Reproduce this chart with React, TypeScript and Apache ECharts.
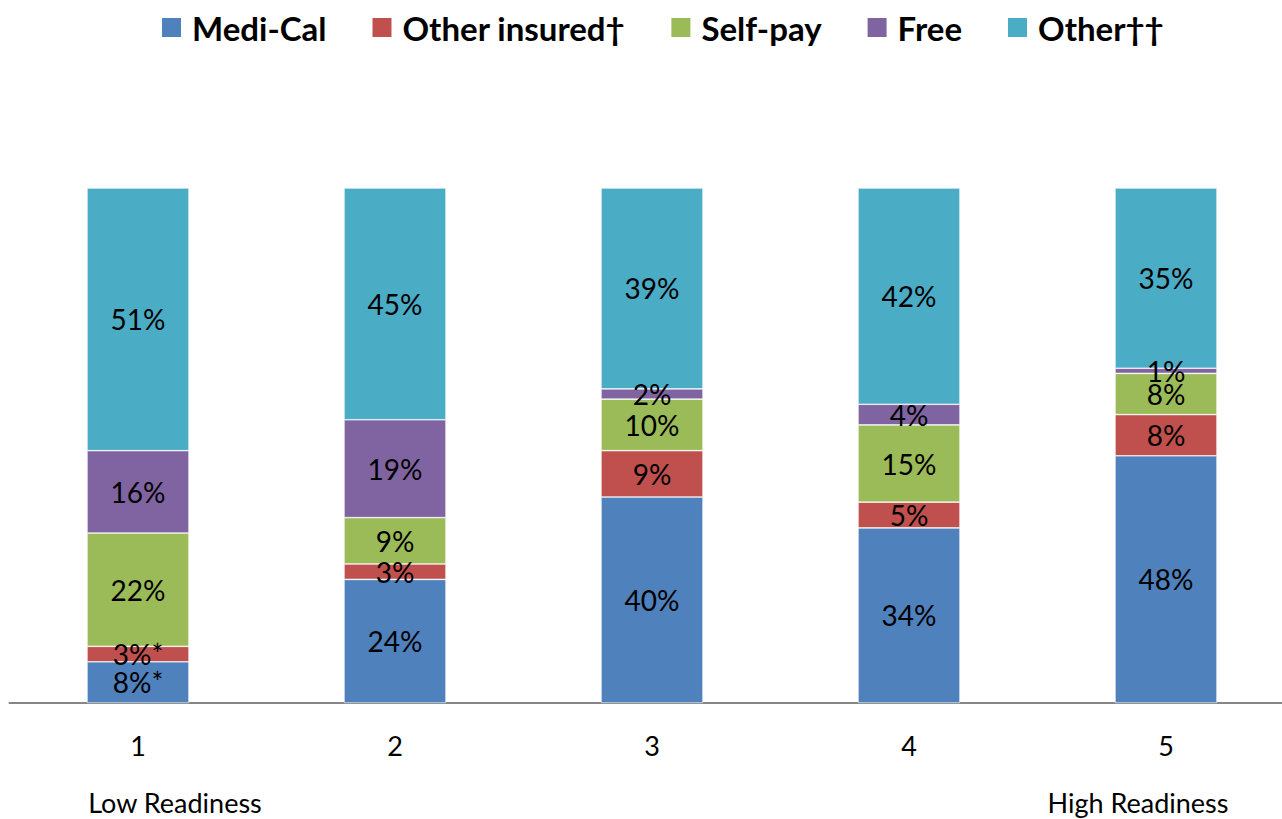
import React, { useEffect, useRef } from "react";
import * as echarts from "echarts";

const categories = ["1", "2", "3", "4", "5"];
const seriesNames = ["Medi-Cal", "Other insured†", "Self-pay", "Free", "Other††"];
const mediCal = [8, 24, 40, 34, 48];
const otherInsured = [3, 3, 9, 5, 8];
const selfPay = [22, 9, 10, 15, 8];
const free = [16, 19, 2, 4, 1];
const other = [51, 45, 39, 42, 35];
const mediCalNotes = ["*", "", "", "", ""];
const otherInsuredNotes = ["*", "", "", "", ""];
const emptyNotes = ["", "", "", "", ""];
const colors = ["#4F81BD", "#C0504D", "#9BBB59", "#8064A2", "#4BACC6"];
const scaleLow = "Low Readiness";
const scaleHigh = "High Readiness";

const FONT = "Lato, 'Open Sans', sans-serif";

export default function App() {
  const ref = useRef<HTMLDivElement>(null);
  useEffect(() => {
    if (!ref.current) return;
    const chart = echarts.init(ref.current, undefined, { renderer: "svg" });
    const values = [mediCal, otherInsured, selfPay, free, other];
    const notes = [mediCalNotes, otherInsuredNotes, emptyNotes, emptyNotes, emptyNotes];
    chart.setOption({
      animation: false,
      textStyle: { fontFamily: FONT },
      legend: {
        top: 6,
        left: 155,
        itemWidth: 21,
        itemHeight: 21,
        itemGap: 44,
        icon: "rect",
        textStyle: { fontSize: 33, fontWeight: "bold", color: "#000", fontFamily: FONT, padding: [0, 0, 0, 5] },
        data: seriesNames,
      },
      grid: { left: 9.5, right: 0.5, top: 188, bottom: 116 },
      xAxis: {
        type: "category",
        data: categories,
        axisLine: { lineStyle: { color: "#868686", width: 2 } },
        axisTick: { show: false },
        axisLabel: { fontSize: 27, color: "#000", margin: 29, fontFamily: FONT },
      },
      yAxis: { type: "value", min: 0, max: 100, show: false },
      series: seriesNames.map((name, i) => ({
        name,
        type: "bar",
        stack: "total",
        barWidth: 102,
        itemStyle: { color: colors[i], borderColor: "#ffffff", borderWidth: 0.6 },
        label: {
          show: true,
          position: "inside",
          fontSize: 28,
          color: "#000",
          fontFamily: FONT,
          formatter: (p: any) => `${p.value}%${notes[i][p.dataIndex]}`,
        },
        data: values[i],
      })),
      graphic: [
        {
          type: "text",
          x: 175,
          y: 802,
          style: { text: scaleLow, fontSize: 27, fill: "#000", fontFamily: FONT, align: "center", verticalAlign: "middle" },
        },
        {
          type: "text",
          x: 1138,
          y: 802,
          style: { text: scaleHigh, fontSize: 27, fill: "#000", fontFamily: FONT, align: "center", verticalAlign: "middle" },
        },
      ],
    });
    return () => chart.dispose();
  }, []);
  return (
    <div style={{ position: "fixed", left: 0, top: 0, width: 1282, height: 819, overflow: "hidden", background: "#fff" }}>
      <div ref={ref} style={{ width: 1295, height: 819 }} />
    </div>
  );
}
